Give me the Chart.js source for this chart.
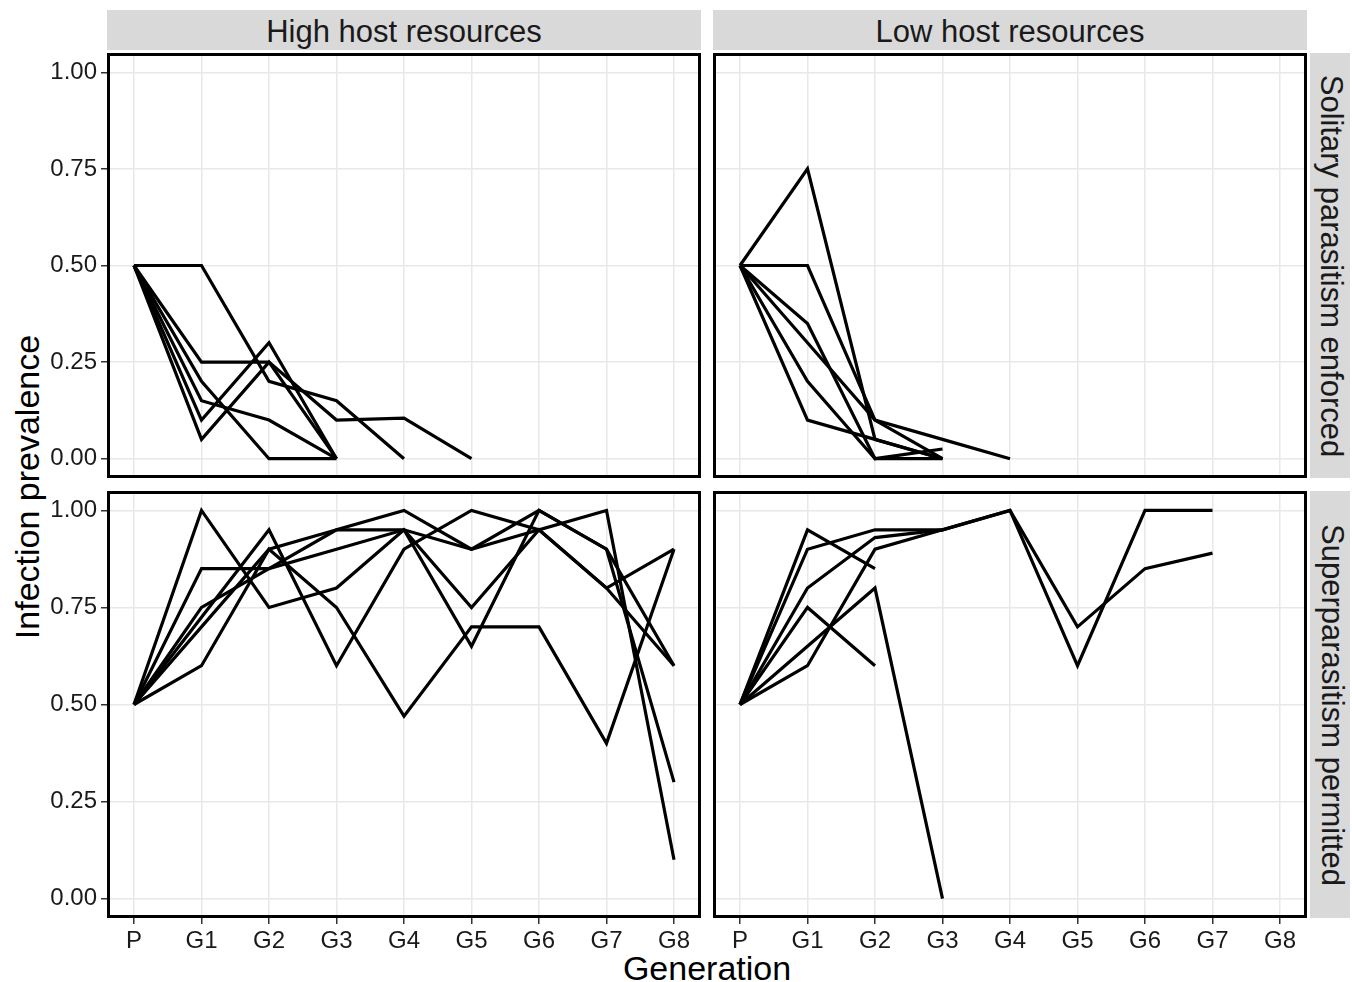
<!DOCTYPE html>
<html>
<head>
<meta charset="utf-8">
<script src="https://cdn.jsdelivr.net/npm/chart.js@4/dist/chart.umd.min.js"></script>
<style>
  body { margin: 0; background: #fff; font-family: "Liberation Sans", Arial, sans-serif; }
  #page { position: relative; width: 1352px; height: 982px; overflow: hidden; }
  .box { position: absolute; }
  .strip { position: absolute; background: #d9d9d9; color: #1a1a1a; font-size: 31px;
           display: flex; align-items: center; justify-content: center; box-sizing: border-box; }
  .strip.top { padding-top: 4px; }
  .strip.side { padding-left: 3px; }
  .strip.side span { transform: rotate(90deg); white-space: nowrap; }
  .title { position: absolute; color: #000; font-size: 34px; white-space: nowrap; }
</style>
</head>
<body>
<div id="page">
  <div class="strip top" style="left:107px;top:10px;width:594px;height:40px">High host resources</div>
  <div class="strip top" style="left:713px;top:10px;width:594px;height:40px">Low host resources</div>
  <div class="strip side" style="left:1310px;top:53px;width:40px;height:425px"><span>Solitary parasitism enforced</span></div>
  <div class="strip side" style="left:1310px;top:491px;width:40px;height:427px"><span>Superparasitism permitted</span></div>
  <div class="title" style="left:27px;top:487px;transform:translate(-50%,-50%) rotate(-90deg)">Infection prevalence</div>
  <div class="title" style="left:707px;top:968px;transform:translate(-50%,-50%)">Generation</div>
</div>
<script>
// ── Data ─────────────────────────────────────────────────────
const GENERATIONS = ['P', 'G1', 'G2', 'G3', 'G4', 'G5', 'G6', 'G7', 'G8'];
const Y_TICKS = [0, 0.25, 0.5, 0.75, 1];

// one array per replicate line, values from P onwards (line stops when it ends)
const highSolitary = [
  [0.5, 0.5, 0.2, 0.15, 0],
  [0.5, 0.25, 0.25, 0.1, 0.105, 0],
  [0.5, 0.15, 0.1, 0],
  [0.5, 0.2, 0, 0],
  [0.5, 0.1, 0.3, 0],
  [0.5, 0.05, 0.25, 0],
];
const lowSolitary = [
  [0.5, 0.75, 0.05, 0],
  [0.5, 0.5, 0.1, 0],
  [0.5, 0.35, 0, 0.025],
  [0.5, 0.3, 0.1, 0.05, 0],
  [0.5, 0.2, 0, 0],
  [0.5, 0.1, 0.05, 0],
];
const highSuper = [
  [0.5, 1.0, 0.75, 0.8, 0.95, 0.75, 0.95, 0.8, 0.9],
  [0.5, 0.85, 0.85, 0.9, 0.95, 0.9, 1.0, 0.9, 0.3],
  [0.5, 0.6, 0.9, 0.75, 0.47, 0.7, 0.7, 0.4, 0.9],
  [0.5, 0.725, 0.95, 0.6, 0.9, 1.0, 0.95, 1.0, 0.1],
  [0.5, 0.75, 0.85, 0.95, 1.0, 0.9, 0.95, 0.8, 0.6],
  [0.5, 0.7, 0.9, 0.95, 0.95, 0.65, 1.0, 0.9, 0.6],
];
const lowSuper = [
  [0.5, 0.95, 0.85],
  [0.5, 0.9, 0.95, 0.95, 1.0, 0.7, 0.85, 0.89],
  [0.5, 0.8, 0.93, 0.95, 1.0, 0.6, 1.0, 1.0],
  [0.5, 0.75, 0.6],
  [0.5, 0.6, 0.9, 0.95],
  [0.5, 0.65, 0.8, 0],
];

// ── Panel layout ─────────────────────────────────────────────
const PANELS = [
  { series: highSolitary, left: 0,   top: 53,  width: 701, height: 425, yLabels: true,  xLabels: false },
  { series: lowSolitary,  left: 713, top: 53,  width: 594, height: 425, yLabels: false, xLabels: false },
  { series: highSuper,    left: 0,   top: 491, width: 701, height: 472, yLabels: true,  xLabels: true },
  { series: lowSuper,     left: 713, top: 491, width: 594, height: 472, yLabels: false, xLabels: true },
];

const GRID = '#e8e8e8';
const TICK = '#333333';
const FONT = { family: '"Liberation Sans", Arial, sans-serif', size: 24 };

const panelBorder = {
  id: 'panelBorder',
  afterDraw(chart) {
    const { ctx, chartArea: a } = chart;
    ctx.save();
    ctx.strokeStyle = '#000';
    ctx.lineWidth = 3;
    ctx.strokeRect(a.left + 1.5, a.top + 1.5, a.width - 3, a.height - 3);
    ctx.restore();
  },
};

const page = document.getElementById('page');

PANELS.forEach(p => {
  const box = document.createElement('div');
  box.className = 'box';
  box.style.left = p.left + 'px';
  box.style.top = p.top + 'px';
  const canvas = document.createElement('canvas');
  canvas.width = p.width;
  canvas.height = p.height;
  box.appendChild(canvas);
  page.appendChild(box);

  new Chart(canvas, {
    type: 'line',
    data: {
      datasets: p.series.map(vals => ({
        data: vals.map((v, i) => ({ x: i, y: v })),
        borderColor: '#000',
        borderWidth: 3.2,
        pointRadius: 0,
        tension: 0,
        fill: false,
      })),
    },
    options: {
      responsive: false,
      animation: false,
      devicePixelRatio: 1,
      layout: { autoPadding: false, padding: 0 },
      plugins: { legend: { display: false }, tooltip: { enabled: false } },
      scales: {
        x: {
          type: 'linear',
          min: -0.4,
          max: 8.4,
          afterBuildTicks: s => { s.ticks = GENERATIONS.map((_, i) => ({ value: i })); },
          afterFit: s => {
            s.height = p.xLabels ? 45 : 0;
            s.paddingLeft = 0;
            s.paddingRight = 0;
          },
          grid: { color: GRID, lineWidth: 1.5, drawTicks: p.xLabels, tickColor: TICK, tickLength: 6, tickWidth: 1.5 },
          border: { display: false },
          ticks: {
            display: p.xLabels,
            color: '#1a1a1a',
            font: FONT,
            padding: 3,
            maxRotation: 0,
            autoSkip: false,
            callback: v => GENERATIONS[v],
          },
        },
        y: {
          type: 'linear',
          min: -0.05,
          max: 1.05,
          afterBuildTicks: s => { s.ticks = Y_TICKS.map(v => ({ value: v })); },
          afterFit: s => {
            s.width = p.yLabels ? 107 : 0;
            s.paddingTop = 0;
            s.paddingBottom = 0;
          },
          grid: { color: GRID, lineWidth: 1.5, drawTicks: p.yLabels, tickColor: TICK, tickLength: 6, tickWidth: 1.5 },
          border: { display: false },
          ticks: {
            display: p.yLabels,
            color: '#1a1a1a',
            font: FONT,
            padding: 4,
            callback: v => v.toFixed(2),
          },
        },
      },
    },
    plugins: [panelBorder],
  });
});
</script>
</body>
</html>
